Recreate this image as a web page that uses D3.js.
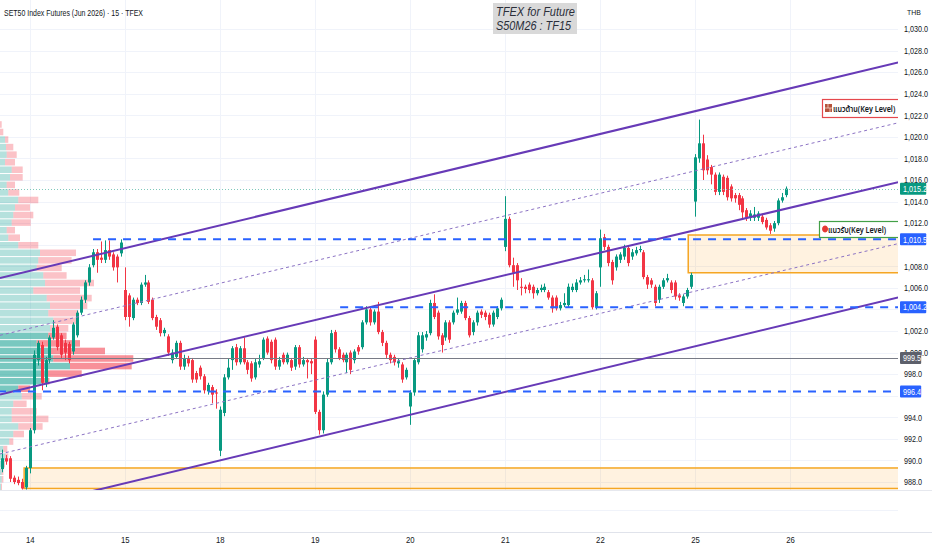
<!DOCTYPE html>
<html>
<head>
<meta charset="utf-8">
<script src="https://cdn.jsdelivr.net/npm/d3@7"></script>
<style>
  body { margin: 0; background: #fff; }
  svg { display: block; font-family: "Liberation Sans", "Noto Sans", sans-serif; }
</style>
</head>
<body>
<svg></svg>
<script>
// 15 minute bars, [open, high, low, close], 24 bars per session
let day13 = [
  [990.4, 991.2, 989.8, 990.0], [989.2, 991.0, 988.9, 990.2], [990.2, 990.5, 989.6, 989.9], [990.2, 990.4, 988.0, 988.3],
  [988.4, 988.6, 987.8, 988.0], [988.2, 988.5, 987.7, 987.9], [988.0, 988.3, 987.3, 987.4], [987.5, 989.5, 987.3, 989.3]
]
let day14 = [
  [989.3, 993.0, 988.8, 992.8], [992.8, 1000.2, 992.5, 999.8], [999.3, 1001.1, 998.8, 1000.9], [1000.7, 1001.0, 996.5, 997.2],
  [997.2, 999.6, 996.8, 999.3], [999.3, 1001.6, 999.0, 1001.4], [1001.4, 1003.0, 1001.2, 1002.3], [1002.4, 1002.6, 1000.2, 1000.5],
  [1001.6, 1001.8, 999.4, 999.8], [1000.9, 1001.2, 999.3, 1000.0], [1000.8, 1001.0, 999.0, 999.3], [1000.1, 1002.8, 999.8, 1002.6],
  [1001.6, 1003.9, 1001.4, 1003.7], [1003.7, 1005.2, 1003.5, 1004.9], [1004.9, 1006.7, 1004.6, 1006.5], [1006.5, 1008.2, 1006.2, 1007.9],
  [1008.1, 1009.6, 1007.9, 1009.3], [1009.3, 1009.6, 1007.4, 1008.6], [1008.8, 1010.3, 1008.3, 1008.6], [1008.6, 1010.4, 1008.3, 1009.5],
  [1009.5, 1010.4, 1008.6, 1008.9], [1009.1, 1009.3, 1007.6, 1007.9], [1008.9, 1009.1, 1006.5, 1007.9], [1009.2, 1010.5, 1008.9, 1010.2]
]
let day15 = [
  [1005.8, 1007.9, 1003.0, 1003.3], [1005.3, 1005.5, 1002.4, 1003.3], [1003.2, 1005.1, 1003.0, 1004.9], [1004.9, 1005.1, 1004.4, 1004.6],
  [1004.6, 1006.5, 1004.4, 1006.3], [1006.3, 1007.2, 1006.1, 1006.5], [1006.5, 1006.7, 1004.5, 1004.7], [1004.9, 1005.1, 1003.0, 1003.2],
  [1003.3, 1003.5, 1002.1, 1002.4], [1003.0, 1003.2, 1001.5, 1001.8], [1001.8, 1002.3, 1001.5, 1002.1], [1001.5, 1001.7, 999.7, 1000.0],
  [999.3, 1000.3, 999.0, 1000.0], [999.6, 1001.1, 999.4, 1000.9], [1000.9, 1001.1, 998.4, 998.7], [998.7, 999.8, 998.4, 999.5],
  [999.5, 999.7, 998.7, 999.0], [999.3, 999.5, 997.2, 997.5], [998.1, 998.3, 997.2, 997.5], [998.6, 998.8, 997.5, 997.8],
  [997.8, 998.0, 996.2, 996.5], [996.4, 997.2, 996.1, 997.0], [996.8, 997.0, 995.3, 996.1], [996.3, 996.6, 994.8, 996.2]
]
let day18 = [
  [990.9, 995.0, 990.4, 994.7], [994.4, 998.0, 994.1, 997.7], [997.7, 999.4, 997.5, 998.6], [999.3, 1000.6, 998.4, 1000.4],
  [1000.5, 1000.8, 998.8, 999.1], [999.1, 1000.6, 998.9, 1000.4], [1000.4, 1001.4, 998.9, 999.1], [999.1, 999.3, 998.0, 998.4],
  [999.0, 999.2, 997.3, 997.6], [997.7, 999.4, 997.5, 999.1], [998.9, 999.8, 998.6, 999.2], [999.5, 1001.4, 999.3, 1001.2],
  [1001.3, 1001.5, 999.8, 1000.0], [1001.0, 1001.2, 999.0, 999.3], [1001.2, 1001.4, 998.4, 998.7], [998.7, 999.6, 998.4, 999.3],
  [999.8, 1000.0, 998.9, 999.1], [999.1, 1000.0, 998.9, 999.8], [999.3, 999.5, 998.3, 998.6], [998.7, 1000.7, 998.4, 1000.5],
  [1000.5, 1000.7, 998.6, 998.9], [998.9, 999.6, 998.7, 999.3], [999.3, 999.5, 997.6, 999.1], [999.2, 999.4, 998.0, 999.0]
]
let day19 = [
  [1001.2, 1001.5, 994.3, 994.5], [994.5, 994.7, 992.4, 992.8], [992.8, 996.4, 992.5, 996.1], [996.1, 999.4, 995.9, 999.1],
  [999.1, 1002.1, 998.9, 1001.8], [1001.9, 1002.1, 1000.0, 1000.3], [1000.3, 1000.5, 999.3, 999.5], [999.8, 1000.0, 999.1, 999.3],
  [999.1, 1000.0, 998.1, 999.8], [1000.0, 1000.2, 998.0, 998.4], [999.3, 1000.3, 999.0, 1000.1], [1000.5, 1000.7, 999.8, 1000.1],
  [1000.5, 1003.0, 1000.3, 1002.8], [1002.8, 1004.3, 1002.6, 1004.0], [1004.0, 1004.2, 1002.5, 1002.8], [1002.8, 1004.0, 1002.6, 1003.8],
  [1003.8, 1004.7, 1001.7, 1001.9], [1001.9, 1002.1, 1000.6, 1000.9], [1000.9, 1001.1, 999.5, 999.8], [999.8, 1000.0, 999.0, 999.3],
  [999.6, 999.8, 998.8, 999.1], [999.0, 999.5, 998.6, 999.2], [998.9, 999.1, 997.2, 997.5], [997.7, 998.6, 997.5, 998.4]
]
let day20 = [
  [995.0, 996.5, 993.3, 996.3], [996.3, 999.5, 996.0, 999.3], [999.1, 1001.9, 998.9, 1001.6], [1000.3, 1001.9, 1000.0, 1001.6],
  [1001.4, 1002.0, 1001.1, 1001.7], [1001.8, 1004.9, 1001.6, 1004.6], [1004.6, 1005.4, 1003.1, 1003.3], [1003.7, 1003.9, 1001.2, 1001.5],
  [1001.6, 1001.8, 1000.0, 1000.7], [1001.4, 1003.0, 1001.1, 1002.8], [1002.8, 1003.0, 1000.9, 1001.2], [1002.8, 1003.9, 1002.6, 1003.7],
  [1003.7, 1005.1, 1003.5, 1004.0], [1003.8, 1004.8, 1003.6, 1004.6], [1004.6, 1004.8, 1003.0, 1003.2], [1003.2, 1003.4, 1001.4, 1001.6],
  [1001.9, 1003.0, 1001.6, 1002.8], [1002.8, 1003.9, 1002.5, 1003.7], [1003.8, 1004.0, 1003.2, 1003.5], [1003.7, 1003.9, 1003.0, 1003.3],
  [1003.5, 1003.7, 1002.3, 1002.6], [1002.6, 1003.9, 1002.4, 1003.7], [1003.3, 1004.3, 1003.1, 1004.1], [1004.1, 1005.1, 1003.9, 1004.9]
]
let day21 = [
  [1009.8, 1014.5, 1009.4, 1012.4], [1012.4, 1012.6, 1007.9, 1008.1], [1008.1, 1008.8, 1006.1, 1007.4], [1008.1, 1008.3, 1005.8, 1006.7],
  [1006.1, 1006.9, 1005.3, 1006.0], [1006.1, 1006.3, 1005.5, 1005.9], [1006.3, 1006.5, 1005.5, 1005.8], [1006.1, 1006.3, 1005.0, 1005.5],
  [1005.5, 1006.0, 1005.3, 1005.8], [1005.8, 1006.3, 1005.6, 1006.0], [1005.8, 1006.4, 1005.6, 1006.1], [1005.6, 1005.8, 1004.9, 1005.1],
  [1005.1, 1005.3, 1003.7, 1004.1], [1005.1, 1005.3, 1003.9, 1004.1], [1004.1, 1004.7, 1003.9, 1004.4], [1004.4, 1005.5, 1004.2, 1004.6],
  [1004.4, 1006.4, 1004.2, 1006.1], [1005.8, 1006.4, 1005.6, 1006.1], [1005.8, 1006.8, 1005.6, 1006.5], [1006.5, 1007.0, 1006.3, 1006.7],
  [1006.7, 1007.2, 1006.5, 1006.8], [1006.7, 1007.7, 1006.5, 1006.8], [1006.7, 1006.9, 1004.0, 1004.2], [1004.2, 1005.7, 1004.0, 1005.5]
]
let day22 = [
  [1007.9, 1011.4, 1006.1, 1010.6], [1010.7, 1011.0, 1009.5, 1009.8], [1009.8, 1010.0, 1008.0, 1008.3], [1008.4, 1008.6, 1006.3, 1006.7],
  [1007.9, 1009.1, 1007.6, 1008.9], [1008.6, 1009.3, 1008.3, 1009.1], [1008.9, 1010.0, 1008.6, 1009.7], [1009.7, 1009.9, 1008.0, 1008.3],
  [1008.9, 1009.6, 1008.6, 1009.3], [1009.2, 1009.8, 1009.0, 1009.5], [1009.5, 1009.9, 1009.3, 1009.6], [1009.3, 1009.5, 1006.8, 1007.0],
  [1007.0, 1007.2, 1005.9, 1006.3], [1006.7, 1006.9, 1006.0, 1006.3], [1006.1, 1006.3, 1004.3, 1004.6], [1004.9, 1006.3, 1004.6, 1006.1],
  [1006.1, 1006.9, 1005.9, 1006.7], [1006.7, 1007.3, 1006.5, 1006.9], [1006.5, 1006.7, 1005.5, 1005.8], [1006.5, 1006.7, 1004.9, 1005.2],
  [1005.3, 1005.5, 1004.8, 1005.1], [1004.6, 1005.4, 1004.3, 1005.2], [1005.2, 1006.0, 1005.0, 1005.8], [1006.1, 1007.4, 1005.9, 1007.2]
]
let day25 = [
  [1014.0, 1018.4, 1012.6, 1018.1], [1018.0, 1021.6, 1017.6, 1019.4], [1019.4, 1020.2, 1016.0, 1016.9], [1017.9, 1018.3, 1016.5, 1016.9],
  [1017.2, 1017.4, 1015.6, 1016.5], [1016.5, 1016.7, 1014.6, 1014.9], [1014.9, 1016.7, 1014.6, 1016.5], [1016.3, 1016.5, 1014.6, 1014.9],
  [1016.2, 1016.4, 1014.1, 1014.4], [1015.4, 1015.6, 1014.0, 1014.3], [1014.6, 1014.8, 1013.9, 1014.3], [1014.6, 1014.8, 1013.2, 1013.7],
  [1014.3, 1014.5, 1012.4, 1013.0], [1013.2, 1013.4, 1012.2, 1012.5], [1012.5, 1013.2, 1012.2, 1012.9], [1012.5, 1013.5, 1012.2, 1012.8],
  [1012.5, 1013.1, 1012.2, 1012.9], [1012.6, 1012.8, 1011.9, 1012.1], [1012.3, 1012.5, 1011.4, 1011.6], [1011.8, 1012.0, 1011.0, 1011.3],
  [1011.5, 1012.2, 1011.2, 1012.0], [1012.0, 1014.3, 1011.8, 1014.1], [1014.1, 1014.8, 1013.9, 1014.4], [1014.6, 1015.4, 1014.4, 1015.2]
]

let dayLabels = ['14', '15', '18', '19', '20', '21', '22', '25', '26']
let dayStarts = [8, 32, 56, 80, 104, 128, 152, 176, 200]
let priceTicks = [988, 990, 992, 994, 996, 998, 1000, 1002, 1004, 1006, 1008, 1010,
                  1012, 1014, 1016, 1018, 1020, 1022, 1024, 1026, 1028, 1030]

// volume profile rows from 1021.5 down, 0.7 per row
let profileUp = [0, 0, 50, 60, 67, 50, 117, 100, 67, 83, 183, 150, 133, 117, 67, 83, 183, 400, 383, 367, 433, 450, 333, 467, 500,
                 483, 533, 500, 483, 367, 483, 533, 700, 467, 417, 183, 217, 133, 117, 117, 183, 133, 93, 33, 50, 27, 17, 17, 10]
let profileDown = [17, 33, 33, 73, 100, 100, 110, 127, 83, 110, 200, 150, 200, 190, 83, 117, 200, 360, 333, 250, 233, 490, 467, 450, 373,
                   300, 233, 183, 183, 433, 567, 800, 617, 350, 77, 117, 200, 133, 250, 367, 243, 107, 40, 40, 33, 23, 17, 17, 10]
let profileTop = 1021.5
let profileStep = 0.7
let valueArea = [28, 35]

// drawings: [bar index, price]
let channelUpper = [[0.5, 1006.9], [227.3, 1026.9]]
let channelMid = [[0.5, 996.1], [227.3, 1015.8]]
let channelLower = [[0.5, 985.1], [227.3, 1005.1]]
let channelHalfUp = [[0.5, 1001.6], [227.3, 1021.3]]
let channelHalfDown = [[0.5, 990.6], [227.3, 1010.1]]
let keyLines = [[24, 1010.5], [86.4, 1004.2], [0, 996.4]]
let zones = [[6.6, 989.3, 987.4], [174.3, 1010.9, 1007.4]]
let lastPrice = 1015.2
let grayLevel = 999.5

let width = 932
let height = 550
let paneRight = 898
let paneBottom = 490

let bars = [].concat(day13, day14, day15, day18, day19, day20, day21, day22, day25)

let svg = d3.select('svg').attr('width', width).attr('height', height)

let xScale = d3.scaleLinear().domain([0, 200]).range([-2, 790])
let yScale = d3.scaleLinear().domain([988, 1030]).range([482, 29])
let volScale = d3.scaleLinear().domain([0, 1330]).range([0, 133])

// squeeze a text horizontally, the reference uses a narrow face
let condense = (sel, k) => {
  sel.each(function () {
    let w = this.getComputedTextLength()
    d3.select(this).attr('textLength', w * k).attr('lengthAdjust', 'spacingAndGlyphs')
  })
}

svg.append('defs').append('clipPath').attr('id', 'pane')
   .append('rect').attr('x', 0).attr('y', 0).attr('width', paneRight).attr('height', paneBottom)

let pane = svg.append('g').attr('clip-path', 'url(#pane)')

let drawGrid = () => {
  pane.selectAll('.hgrid').data(priceTicks).enter().append('line')
      .attr('x1', 0).attr('x2', paneRight)
      .attr('y1', d => Math.round(yScale(d)) + 0.5).attr('y2', d => Math.round(yScale(d)) + 0.5)
      .attr('stroke', '#f0f3fa')
  pane.selectAll('.vgrid').data(dayStarts).enter().append('line')
      .attr('x1', d => Math.round(xScale(d)) + 0.5).attr('x2', d => Math.round(xScale(d)) + 0.5)
      .attr('y1', 0).attr('y2', paneBottom)
      .attr('stroke', '#f0f3fa')
  svg.append('line').attr('x1', 0).attr('x2', width).attr('y1', paneBottom + 0.5).attr('y2', paneBottom + 0.5).attr('stroke', '#e6e8ee')
  svg.append('line').attr('x1', 0).attr('x2', paneRight).attr('y1', 510.5).attr('y2', 510.5).attr('stroke', '#f0f3fa')
  svg.append('line').attr('x1', 0).attr('x2', width).attr('y1', 532.5).attr('y2', 532.5).attr('stroke', '#e0e3eb')
}

let drawProfile = () => {
  let rows = profileUp.map((u, k) => ({k: k, up: u, down: profileDown[k], price: profileTop - k * profileStep}))
  let inVA = (k) => k >= valueArea[0] && k <= valueArea[1]
  let rowH = yScale(profileTop - profileStep) - yScale(profileTop)
  let g = pane.append('g')
  g.selectAll('.pu').data(rows).enter().append('rect')
   .attr('x', 0).attr('y', d => yScale(d.price) + 0.5)
   .attr('width', d => volScale(d.up)).attr('height', rowH - 1)
   .attr('fill', d => inVA(d.k) ? 'rgba(38,166,154,0.62)' : 'rgba(38,166,154,0.34)')
  g.selectAll('.pd').data(rows).enter().append('rect')
   .attr('x', d => volScale(d.up)).attr('y', d => yScale(d.price) + 0.5)
   .attr('width', d => volScale(d.down)).attr('height', rowH - 1)
   .attr('fill', d => inVA(d.k) ? 'rgba(242,54,69,0.55)' : 'rgba(242,54,69,0.3)')
}

let drawZones = () => {
  zones.forEach(z => {
    pane.append('rect')
        .attr('x', xScale(z[0])).attr('y', yScale(z[1]))
        .attr('width', paneRight + 10 - xScale(z[0])).attr('height', yScale(z[2]) - yScale(z[1]))
        .attr('fill', 'rgba(255,152,0,0.12)').attr('stroke', '#f5a623').attr('stroke-width', 1.5)
  })
}

let drawCandles = () => {
  let g = pane.append('g')
  g.selectAll('line').data(bars).enter().append('line')
   .attr('x1', (d, i) => Math.round(xScale(i)) + 0.5).attr('x2', (d, i) => Math.round(xScale(i)) + 0.5)
   .attr('y1', d => yScale(d[1])).attr('y2', d => yScale(d[2]))
   .attr('stroke', d => d[3] >= d[0] ? '#089981' : '#f23645')
  g.selectAll('rect').data(bars).enter().append('rect')
   .attr('x', (d, i) => Math.round(xScale(i)) - 1)
   .attr('width', 3)
   .attr('y', d => yScale(Math.max(d[0], d[3])))
   .attr('height', d => Math.max(1, Math.abs(yScale(d[0]) - yScale(d[3]))))
   .attr('fill', d => d[3] >= d[0] ? '#089981' : '#f23645')
}

let drawLevels = () => {
  pane.append('line').attr('x1', 0).attr('x2', paneRight)
      .attr('y1', Math.round(yScale(grayLevel)) + 0.5).attr('y2', Math.round(yScale(grayLevel)) + 0.5)
      .attr('stroke', '#787b86').attr('stroke-width', 1)
  pane.append('line').attr('x1', 0).attr('x2', paneRight)
      .attr('y1', Math.round(yScale(lastPrice)) + 0.5).attr('y2', Math.round(yScale(lastPrice)) + 0.5)
      .attr('stroke', '#7fc9bb').attr('stroke-dasharray', '1,2')

  let line = d3.line().x(d => xScale(d[0])).y(d => yScale(d[1]))
  ;[channelHalfUp, channelHalfDown].forEach(l => {
    pane.append('path').attr('d', line(l)).attr('fill', 'none')
        .attr('stroke', '#8c73c4').attr('stroke-width', 1).attr('stroke-dasharray', '3,3')
  })
  ;[channelUpper, channelMid, channelLower].forEach(l => {
    pane.append('path').attr('d', line(l)).attr('fill', 'none')
        .attr('stroke', '#673ab7').attr('stroke-width', 2)
  })
  keyLines.forEach(k => {
    pane.append('line').attr('x1', xScale(k[0])).attr('x2', paneRight)
        .attr('y1', yScale(k[1])).attr('y2', yScale(k[1]))
        .attr('stroke', '#2962ff').attr('stroke-width', 2).attr('stroke-dasharray', '8,7')
  })
}

let drawKeyLabels = () => {
  let thai = '"Noto Sans Thai", "Noto Sans Thai UI", "Noto Sans", "DejaVu Sans", sans-serif'
  // resistance
  pane.append('rect').attr('x', 822.5).attr('y', 99.5).attr('width', 90).attr('height', 18)
      .attr('fill', '#fff').attr('stroke', '#e5484d').attr('stroke-width', 1.2)
  pane.append('rect').attr('x', 825).attr('y', 104).attr('width', 7).attr('height', 8).attr('fill', '#b5533c')
  pane.append('path').attr('d', 'M825,108H832M828,104V108M830,108V112').attr('stroke', '#f3d2c4').attr('stroke-width', 0.8)
  let t1 = pane.append('text').attr('x', 833).attr('y', 111.5).text('แนวต้าน(Key Level)')
      .style('font-family', thai).style('font-size', '8px').style('font-weight', 600).attr('fill', '#131722')
  condense(t1, 0.9)
  // support
  pane.append('rect').attr('x', 819.5).attr('y', 221.5).attr('width', 90).attr('height', 16)
      .attr('fill', '#fff').attr('stroke', '#43a047').attr('stroke-width', 1.2)
  pane.append('path').attr('d', 'M825,225.5a3,3.5 0 1,0 0.1,0Z').attr('fill', '#e53935')
  let t2 = pane.append('text').attr('x', 828).attr('y', 232.5).text('แนวรับ(Key Level)')
      .style('font-family', thai).style('font-size', '8px').style('font-weight', 600).attr('fill', '#131722')
  condense(t2, 0.9)
}

let drawAxes = () => {
  let tagPrices = [lastPrice, keyLines[0][1], keyLines[1][1], grayLevel, keyLines[2][1]]
  // a tag hides the scale label it sits on; a label just above a tag keeps its top half
  let visibleTicks = priceTicks.filter(t => tagPrices.every(p => {
    let dy = yScale(t) - yScale(p)
    return dy < -5 || dy > 6.5
  }))
  let yAxis = d3.axisRight(yScale).tickValues(visibleTicks).tickFormat(d3.format(',.1f')).tickSize(0).tickPadding(5)
  let ya = svg.append('g').attr('transform', 'translate(899,0)').call(yAxis)
  ya.select('.domain').remove()
  ya.selectAll('text').attr('fill', '#131722').style('font-size', '8.6px')
    .style('font-family', '"Liberation Sans", sans-serif')
  condense(ya.selectAll('text'), 0.84)

  let thb = svg.append('text').attr('x', 907).attr('y', 15).text('THB')
     .attr('fill', '#131722').style('font-size', '8px')
  condense(thb, 0.86)

  let xAxis = d3.axisBottom(xScale).tickValues(dayStarts).tickFormat((d, i) => dayLabels[i]).tickSize(0).tickPadding(5)
  let xa = svg.append('g').attr('transform', 'translate(0,532)').call(xAxis)
  xa.select('.domain').remove()
  xa.selectAll('text').attr('fill', '#131722').style('font-size', '9px')
    .style('font-family', '"Liberation Sans", sans-serif')
  condense(xa.selectAll('text'), 0.86)

  let tags = [[lastPrice, '#089981'], [keyLines[0][1], '#2962ff'], [keyLines[1][1], '#2962ff'],
              [grayLevel, '#5d606b'], [keyLines[2][1], '#2962ff']]
  tags.forEach(t => {
    let label = d3.format(',.1f')(t[0])
    let g = svg.append('g')
    let txt = g.append('text').attr('x', 903).attr('y', yScale(t[0]) + 3.2).text(label)
               .attr('fill', '#fff').style('font-size', '8.6px')
    condense(txt, 0.84)
    let w = txt.node().getComputedTextLength() * 0.84
    g.insert('rect', 'text').attr('x', 900).attr('y', yScale(t[0]) - 6)
     .attr('width', w + 6).attr('height', 12).attr('rx', 1).attr('fill', t[1])
  })
}

let drawTitles = () => {
  let title = svg.append('text').attr('x', 4).attr('y', 16)
     .text('SET50 Index Futures (Jun 2026) · 15 · TFEX')
     .attr('fill', '#131722').style('font-size', '9.5px')
  title.attr('textLength', 139).attr('lengthAdjust', 'spacingAndGlyphs')
  svg.append('rect').attr('x', 493).attr('y', 3).attr('width', 84).attr('height', 31).attr('fill', '#d9d9d9')
  svg.append('text').attr('x', 496).attr('y', 16).text('TFEX for Future')
     .attr('fill', '#2a2e39').style('font-size', '13px').style('font-style', 'italic')
     .attr('textLength', 79).attr('lengthAdjust', 'spacingAndGlyphs')
  svg.append('text').attr('x', 496).attr('y', 30).text('S50M26 : TF15')
     .attr('fill', '#2a2e39').style('font-size', '13px').style('font-style', 'italic')
     .attr('textLength', 75).attr('lengthAdjust', 'spacingAndGlyphs')
}

drawGrid()
drawProfile()
drawZones()
drawCandles()
drawLevels()
drawKeyLabels()
drawAxes()
drawTitles()
</script>
</body>
</html>
